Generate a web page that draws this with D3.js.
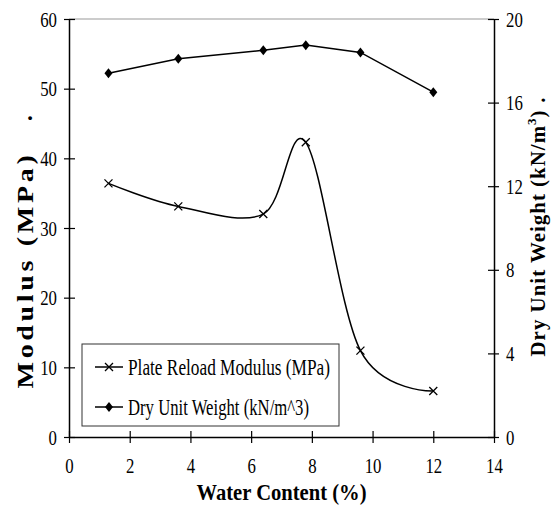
<!DOCTYPE html>
<html>
<head>
<meta charset="utf-8" />
<title></title>
<style>
    body { margin: 0; background: #fff; }
    svg { display: block; }
    text { font-family: "Liberation Serif", "Times New Roman", serif; fill: #000; }
</style>
</head>
<body>
<div id="chart"></div>
<script src="https://cdn.jsdelivr.net/npm/d3@7"></script>
<script>
    // values
    var waterContent = [1.3, 3.6, 6.4, 7.8, 9.6, 12.0];
    var modulus = [36.4, 33.1, 32.0, 42.3, 12.4, 6.6];
    var dryUnitWeight = [17.4, 18.1, 18.5, 18.75, 18.4, 16.5];
    var xTicks = [0, 2, 4, 6, 8, 10, 12, 14];
    var leftTicks = [0, 10, 20, 30, 40, 50, 60];
    var rightTicks = [0, 4, 8, 12, 16, 20];
    var seriesNames = ["Plate Reload Modulus (MPa)", "Dry Unit Weight (kN/m^3)"];

    var width = 554, height = 508;
    var plotLeft = 69, plotRight = 494, plotTop = 19, plotBottom = 437;
    var squeeze = 0.8;

    var svg = d3.select("#chart").append("svg")
        .attr("width", width)
        .attr("height", height);

    var x = d3.scaleLinear().domain([0, 14]).range([plotLeft, plotRight]);
    var yL = d3.scaleLinear().domain([0, 60]).range([plotBottom, plotTop]);
    var yR = d3.scaleLinear().domain([0, 20]).range([plotBottom, plotTop]);

    // top border
    svg.append("line")
        .attr("x1", plotLeft).attr("x2", plotRight)
        .attr("y1", plotTop).attr("y2", plotTop)
        .attr("stroke", "#999").attr("stroke-width", 1);

    function styleAxis(g) {
        g.select(".domain").attr("stroke", "#000").attr("stroke-width", 1.5);
        g.selectAll(".tick line").attr("stroke", "#000").attr("stroke-width", 1.2);
        g.selectAll(".tick text")
            .attr("font-family", "'Liberation Serif', serif")
            .attr("font-size", 21)
            .attr("fill", "#000");
    }

    svg.append("g")
        .attr("transform", `translate(0,${plotBottom})`)
        .call(d3.axisBottom(x).tickValues(xTicks).tickSizeOuter(0))
        .call(styleAxis)
        .call(g => g.selectAll(".tick line").attr("y1", -6).attr("y2", 6))
        .call(g => g.selectAll(".tick text")
            .attr("y", 36).attr("dy", null)
            .attr("transform", `scale(${squeeze},1)`));

    svg.append("g")
        .attr("transform", `translate(${plotLeft},0)`)
        .call(d3.axisLeft(yL).tickValues(leftTicks).tickSizeOuter(0))
        .call(styleAxis)
        .call(g => g.selectAll(".tick line").attr("x1", -5).attr("x2", 6))
        .call(g => g.selectAll(".tick text")
            .attr("x", -12 / squeeze).attr("dy", "0.34em")
            .attr("transform", `scale(${squeeze},1)`));

    svg.append("g")
        .attr("transform", `translate(${plotRight},0)`)
        .call(d3.axisRight(yR).tickValues(rightTicks).tickSizeOuter(0))
        .call(styleAxis)
        .call(g => g.selectAll(".tick line").attr("x1", -6).attr("x2", 5))
        .call(g => g.selectAll(".tick text")
            .attr("x", 12 / squeeze).attr("dy", "0.34em")
            .attr("transform", `scale(${squeeze},1)`));

    var modData = waterContent.map((w, i) => [w, modulus[i]]);
    var dryData = waterContent.map((w, i) => [w, dryUnitWeight[i]]);

    svg.append("path")
        .datum(modData)
        .attr("fill", "none")
        .attr("stroke", "#000")
        .attr("stroke-width", 1.5)
        .attr("d", d3.line().x(d => x(d[0])).y(d => yL(d[1])).curve(d3.curveCardinal.tension(0)));

    svg.append("path")
        .datum(dryData)
        .attr("fill", "none")
        .attr("stroke", "#000")
        .attr("stroke-width", 1.5)
        .attr("d", d3.line().x(d => x(d[0])).y(d => yR(d[1])));

    var crossPath = "M-4,-4L4,4M-4,4L4,-4";
    var diamondPath = "M0,-5L4,0L0,5L-4,0Z";

    svg.append("g").selectAll("path")
        .data(modData)
        .join("path")
        .attr("transform", d => `translate(${x(d[0])},${yL(d[1])})`)
        .attr("d", crossPath)
        .attr("stroke", "#000")
        .attr("stroke-width", 1.3)
        .attr("fill", "none");

    svg.append("g").selectAll("path")
        .data(dryData)
        .join("path")
        .attr("transform", d => `translate(${x(d[0])},${yR(d[1])})`)
        .attr("d", diamondPath)
        .attr("fill", "#000");

    // legend
    var legend = svg.append("g");
    legend.append("rect")
        .attr("x", 82).attr("y", 344)
        .attr("width", 257).attr("height", 82)
        .attr("fill", "#fff").attr("stroke", "#333").attr("stroke-width", 1);

    var rows = legend.selectAll("g.row")
        .data(seriesNames)
        .join("g")
        .attr("class", "row")
        .attr("transform", (d, i) => `translate(0,${367 + i * 40})`);

    rows.append("line")
        .attr("x1", 95).attr("x2", 123)
        .attr("stroke", "#000").attr("stroke-width", 1.5);
    rows.append("path")
        .attr("transform", "translate(109,0)")
        .attr("d", (d, i) => i === 0 ? crossPath : diamondPath)
        .attr("stroke", (d, i) => i === 0 ? "#000" : "none")
        .attr("stroke-width", 1.3)
        .attr("fill", (d, i) => i === 0 ? "none" : "#000");
    rows.append("text")
        .attr("x", 128).attr("y", 8)
        .attr("font-size", 24)
        .attr("textLength", (d, i) => i === 0 ? 202 : 181)
        .attr("lengthAdjust", "spacingAndGlyphs")
        .text(d => d);

    // axis titles
    svg.append("text")
        .attr("x", (plotLeft + plotRight) / 2).attr("y", 500)
        .attr("text-anchor", "middle")
        .attr("font-weight", "bold")
        .attr("font-size", 24)
        .attr("textLength", 170)
        .attr("lengthAdjust", "spacingAndGlyphs")
        .text("Water Content (%)");

    svg.append("text")
        .attr("transform", "translate(33,270) rotate(-90)")
        .attr("text-anchor", "middle")
        .attr("font-weight", "bold")
        .attr("font-size", 23)
        .attr("letter-spacing", 3)
        .attr("textLength", 237)
        .attr("lengthAdjust", "spacingAndGlyphs")
        .text("Modulus (MPa)");
    svg.append("text")
        .attr("transform", "translate(32,118) rotate(-90)")
        .attr("text-anchor", "middle")
        .attr("font-weight", "bold")
        .attr("font-size", 23)
        .text(".");

    var rt = svg.append("text")
        .attr("transform", "translate(545,233) rotate(-90)")
        .attr("text-anchor", "middle")
        .attr("font-weight", "bold")
        .attr("font-size", 21)
        .attr("letter-spacing", 1)
        .attr("textLength", 247)
        .attr("lengthAdjust", "spacingAndGlyphs");
    rt.append("tspan").text("Dry Unit Weight (kN/m");
    rt.append("tspan").attr("font-size", 13).attr("dy", -9).text("3");
    rt.append("tspan").attr("dy", 9).text(")");
    svg.append("text")
        .attr("transform", "translate(545,100) rotate(-90)")
        .attr("text-anchor", "middle")
        .attr("font-weight", "bold")
        .attr("font-size", 21)
        .text(".");
</script>
</body>
</html>
